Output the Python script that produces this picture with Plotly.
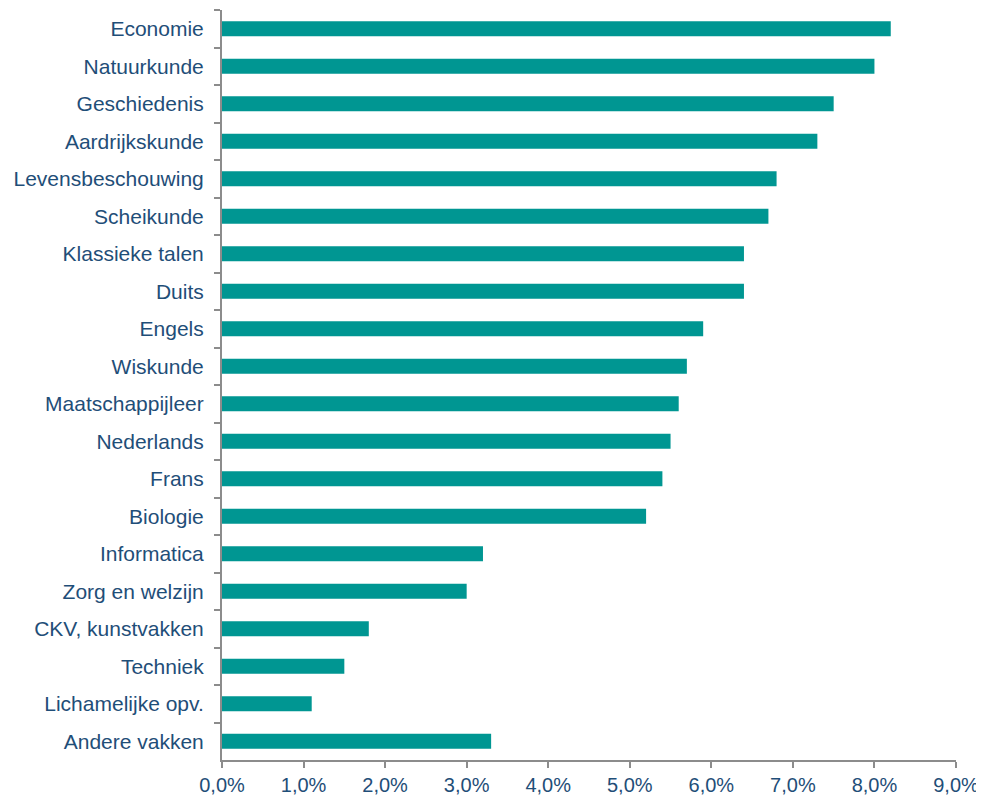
import plotly.graph_objects as go

subjects = ["Economie", "Natuurkunde", "Geschiedenis", "Aardrijkskunde", "Levensbeschouwing",
            "Scheikunde", "Klassieke talen", "Duits", "Engels", "Wiskunde",
            "Maatschappijleer", "Nederlands", "Frans", "Biologie", "Informatica",
            "Zorg en welzijn", "CKV, kunstvakken", "Techniek", "Lichamelijke opv.", "Andere vakken"]
shares = [8.2, 8.0, 7.5, 7.3, 6.8, 6.7, 6.4, 6.4, 5.9, 5.7,
          5.6, 5.5, 5.4, 5.2, 3.2, 3.0, 1.8, 1.5, 1.1, 3.3]
x_ticks = [0, 1, 2, 3, 4, 5, 6, 7, 8, 9]
x_labels = [f"{v:.1f}%".replace(".", ",") for v in x_ticks]

text_col = "#1f4e78"
axis_col = "#8c8c8c"

fig = go.Figure(go.Bar(x=shares, y=subjects, orientation="h",
                       marker_color="#009692", marker_line_width=0))

# page body has an 8px margin, so the figure is a bit smaller than the window
fig.update_layout(
    width=976, height=790,
    margin=dict(l=214, r=28, t=2, b=38),
    plot_bgcolor="white", paper_bgcolor="white",
    bargap=0.6, showlegend=False,
    font=dict(family="Liberation Sans, Arial", size=21, color=text_col),
)
fig.update_xaxes(range=[0, 9], tickvals=x_ticks, ticktext=x_labels, automargin=False,
                 showgrid=False, zeroline=False, showline=True, linecolor=axis_col,
                 linewidth=2, ticks="outside", ticklen=6, tickwidth=2, tickcolor=axis_col,
                 tickfont=dict(size=20))
fig.update_yaxes(autorange="reversed", automargin=False, showgrid=False, showline=True,
                 linecolor=axis_col, linewidth=2, ticks="outside", ticklen=6, tickwidth=2,
                 tickcolor=axis_col, tickson="boundaries", ticklabelstandoff=12)

fig.write_html("out.html")
